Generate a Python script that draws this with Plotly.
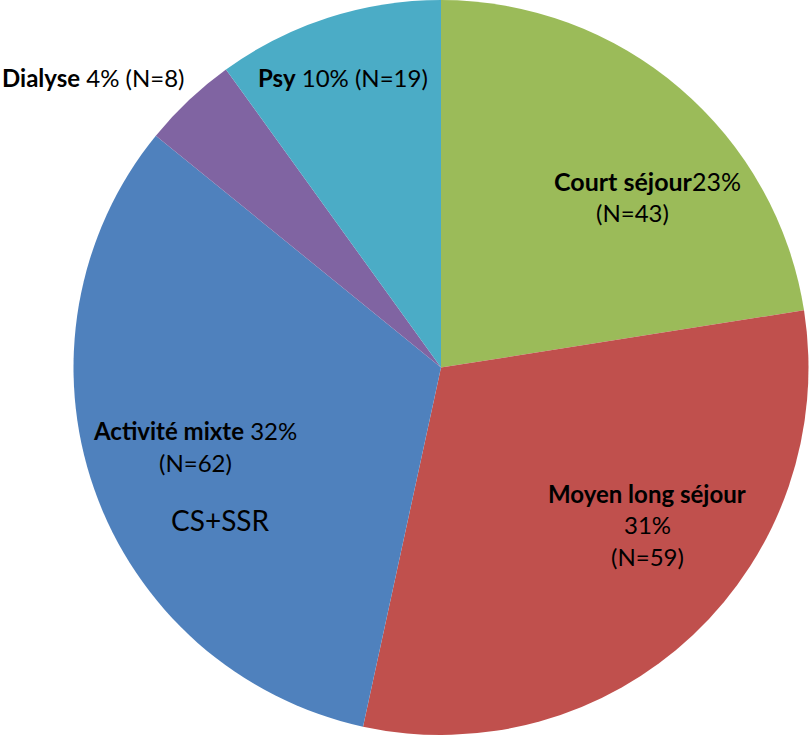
import plotly.graph_objects as go

categories = ["Court séjour", "Moyen long séjour", "Activité mixte", "Dialyse", "Psy"]
counts = [43, 59, 62, 8, 19]
colors = ["#9BBB59", "#C0504D", "#4F81BD", "#8064A2", "#4BACC6"]
extra_note = "CS+SSR"

total = sum(counts)
pcts = [int((100 * c / total) + 0.5) for c in counts]

fig = go.Figure(go.Pie(
    labels=categories, values=counts, sort=False, direction="clockwise", rotation=0,
    marker=dict(colors=colors, line=dict(width=0)),
    textinfo="none", hoverinfo="label+value+percent", showlegend=False,
    domain=dict(x=[73/811, 809/811], y=[0, 1]),
))

FONT = "Lato, 'Open Sans', sans-serif"
W, H = 811, 735

def ann(text, x, y, size=24, xanchor="center"):
    fig.add_annotation(text=text, x=x / W, y=1 - y / H, xref="paper", yref="paper",
                       showarrow=False, xanchor=xanchor, yanchor="middle",
                       font=dict(family=FONT, size=size, color="#000000"))

# Court séjour
ann(f"<b>{categories[0]}</b>{pcts[0]}%", 647, 181, size=25)
ann(f"(N={counts[0]})", 632, 212)
# Moyen long séjour
ann(f"<b>{categories[1]}</b>", 647, 493)
ann(f"{pcts[1]}%", 647, 524)
ann(f"(N={counts[1]})", 647, 556)
# Activité mixte
ann(f"<b>{categories[2]}</b> {pcts[2]}%", 195, 430)
ann(f"(N={counts[2]})", 195, 462)
ann(extra_note, 220, 520, size=28)
# Dialyse
ann(f"<b>{categories[3]}</b> {pcts[3]}% (N={counts[3]})", 0, 78, xanchor="left")
# Psy
ann(f"<b>{categories[4]}</b> {pcts[4]}% (N={counts[4]})", 343, 78)

fig.update_layout(width=W, height=H, margin=dict(l=0, r=0, t=0, b=0),
                  paper_bgcolor="white", plot_bgcolor="white")
fig.write_html("out.html", config={"displayModeBar": False},
               post_script="document.body.style.margin='0';")
